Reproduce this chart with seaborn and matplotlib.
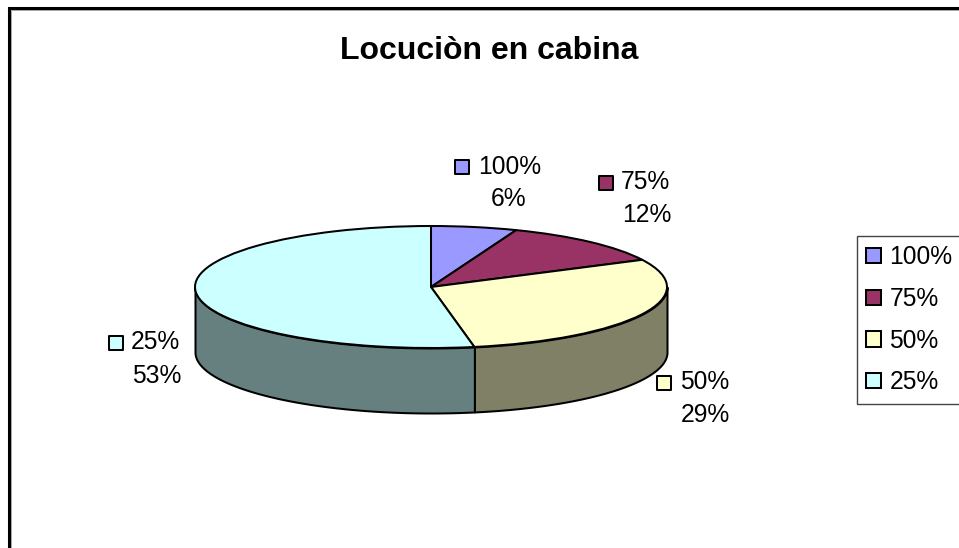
import numpy as np
import matplotlib
matplotlib.use("Agg")
import matplotlib.pyplot as plt
import seaborn as sns

title = "Locuciòn en cabina"
categories = ["100%", "75%", "50%", "25%"]
counts = [1, 2, 5, 9]
top_colors = ["#9999FF", "#993366", "#FFFFCC", "#CCFFFF"]
side_colors = ["#4D4D80", "#4D1A33", "#808066", "#668080"]

# layout, in reference pixels
W, H = 959, 548
PIE_L, PIE_R, PIE_T, PIE_B = 195, 667, 226, 348
DEPTH_PX = 65
marker_xy = [(462, 167), (606, 183), (664, 383), (116, 343)]
name_xy = [(478, 167), (621, 182), (680, 382), (131, 342)]
pct_xy = [(509, 199), (647, 215), (705, 415), (157, 376)]

sns.set_theme(style="white")
plt.rcParams["font.family"] = ["Liberation Sans", "DejaVu Sans"]
FS = 17.7
LW = 1.45

fig = plt.figure(figsize=(W / 100, H / 100), dpi=100, facecolor="white")

# pie axes: unit circle squashed into the reference ellipse
ry_px = (PIE_B - PIE_T) / 2
depth = DEPTH_PX / ry_px
ax = fig.add_axes([PIE_L / W, 1 - (PIE_B + DEPTH_PX) / H,
                   (PIE_R - PIE_L) / W, (PIE_B + DEPTH_PX - PIE_T) / H])

# side wall: only the part of each slice on the front half is visible
fractions = np.array(counts) / sum(counts)
edges = np.concatenate([[0], np.cumsum(fractions)]) * 360
for a0, a1, c in zip(edges[:-1], edges[1:], side_colors):
    lo, hi = max(a0, 90), min(a1, 270)
    if hi <= lo:
        continue
    th = np.radians(np.linspace(lo, hi, 200))
    x, y = np.sin(th), np.cos(th)
    ax.fill_between(x, y, y - depth, facecolor=c, edgecolor="black",
                    linewidth=LW, clip_on=False)

wedges, _ = ax.pie(counts, colors=sns.color_palette(top_colors), startangle=90,
                   counterclock=False, radius=1,
                   wedgeprops={"edgecolor": "black", "linewidth": LW, "clip_on": False})
ax.set_aspect("auto")
ax.set_xlim(-1, 1)
ax.set_ylim(-1 - depth, 1)
ax.axis("off")

# overlay in pixel coordinates for frame, title and data labels
ov = fig.add_axes([0, 0, 1, 1], facecolor="none")
sns.scatterplot(x=[p[0] for p in marker_xy], y=[p[1] for p in marker_xy],
                hue=categories, palette=top_colors, marker="s", s=98,
                edgecolor="black", linewidth=LW, legend=False, ax=ov, zorder=5)
ov.set_xlim(0, W)
ov.set_ylim(H, 0)
ov.axis("off")

ov.plot([10.8, 10.8, W + 5], [H + 5, 9.8, 9.8], color="#aaaaaa", lw=0.7, clip_on=True,
        solid_joinstyle="miter")
ov.plot([9, 9, W + 5], [H + 5, 8, 8], color="black", lw=2.2, clip_on=True,
        solid_joinstyle="miter")

ov.text(489, 51, title, fontsize=23, fontweight="bold", color="black",
        ha="center", va="center")

for name, frac, nxy, pxy in zip(categories, fractions, name_xy, pct_xy):
    ov.text(nxy[0], nxy[1], name, fontsize=FS, color="black", ha="left", va="center")
    ov.text(pxy[0], pxy[1], f"{round(frac * 100)}%", fontsize=FS, color="black",
            ha="center", va="center")

leg = fig.legend(wedges, categories, loc="upper left",
                 bbox_to_anchor=(857 / W, 1 - 236 / H), bbox_transform=fig.transFigure,
                 borderaxespad=0, fontsize=FS, frameon=True, fancybox=False,
                 framealpha=1, edgecolor="#444444", labelcolor="black",
                 handlelength=0.58, handleheight=0.58, handletextpad=0.36,
                 labelspacing=0.72, borderpad=0.38)
leg.get_frame().set_linewidth(1.0)

fig.savefig("out.png", dpi=100, facecolor="white")
